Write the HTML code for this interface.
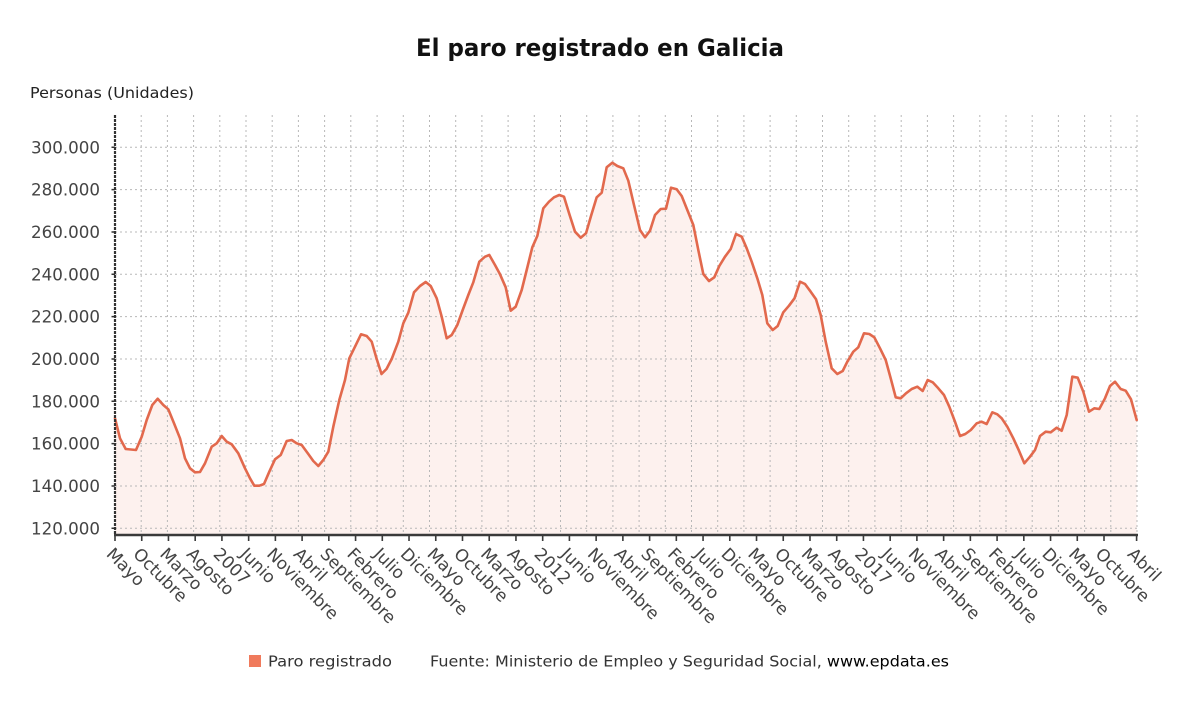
<!DOCTYPE html>
<html>
<head>
<meta charset="utf-8">
<style>
html,body{margin:0;padding:0;background:#fff;}
svg{display:block;}
text{font-family:"DejaVu Sans","Liberation Sans",sans-serif;}
</style>
</head>
<body>
<svg width="1200" height="705" viewBox="0 0 1200 705" xmlns="http://www.w3.org/2000/svg">
<rect width="1200" height="705" fill="#fff"/>
<text x="600" y="56" text-anchor="middle" font-size="24" font-weight="bold" fill="#111" textLength="368" lengthAdjust="spacingAndGlyphs">El paro registrado en Galicia</text>
<text x="30" y="98" font-size="15.5" fill="#222" textLength="164" lengthAdjust="spacingAndGlyphs">Personas (Unidades)</text>

<!-- fill -->
<polygon fill="#fdf1ee" points="115,418.3 120,438.3 125.7,449 136,450 141.7,436.7 146.7,420 152.3,405 157.7,398.7 163.3,405 168.3,409.3 174,423.3 180,438.3 185,458.3 190,468.3 195,472.3 200,472 205,463.3 211.7,446.7 216.7,443.3 221.7,436 226.7,441.7 231.7,444.3 238.3,453.3 245,468.3 250,478.3 254.3,485.7 259.3,485.7 264,484 269.3,471.7 275,459.3 280.7,455 286.7,441 291.7,440 296.7,443.3 301.7,445 308.3,454 313.3,461 318.3,466 323.3,460 328.3,451.7 333.3,426.7 339.3,400 345,380 349.3,358.3 355,346.7 361,334.3 366.7,336 371.7,341.7 376.7,359 381.5,374 386.5,369 391.7,359 398.3,341.7 403.3,323.3 408.3,312.7 414,292.3 420,286 425.7,282 430.7,286 436.7,298.3 441.7,316.7 446.7,338.3 451.7,335 457.3,325 462.7,310 468.3,295 473.3,282.3 479.3,261.7 485,256.7 489.3,255 495,265 500,274.3 505.7,287.3 510.7,310.7 515.7,306.7 521.7,290 526.7,270 532.3,247.3 537.3,236 543.3,208.3 549,201.7 554,197.3 559.3,195 564,196.7 569.3,214 575,231.7 580.7,237.7 586,233.3 591,216 596.7,197.3 601.7,192.7 606.7,167.3 612.3,162.7 617.3,166 623.3,168.3 628.3,180.7 634,205 640,230 645,237.3 650,230.7 655,215 660.7,209 666,208.7 671,187.7 676.7,189.3 681.7,196 687.3,210 693.3,225 698.3,250 703.3,274 709,281 714.3,277.3 719.3,266 725,256.7 730.7,249 736,234 741.7,236.7 746.7,248.3 751.7,261.7 757.3,278.3 762.3,295 767.3,323.3 772.7,330 777.7,326 783.3,312.3 789,305.7 794.5,298.3 800,281.7 805,284 810.7,291.7 816,299.3 820.7,315 825.7,341.7 831.7,368.3 837.3,374 842.7,371 847.3,361.7 853.3,351.7 858.3,347.3 864,333.3 869.3,334 874.3,337.3 880,348.3 885.7,360 890.7,378.3 895.7,397.3 900.7,398.3 906,393.3 911.7,389 917.3,386.7 922.7,391 927.7,380 932.7,382.3 938.3,388.3 944,395 949.3,406.7 955,421.7 960,436 965.3,434 970.8,430 976.7,423.3 981.5,421.7 986.7,424 992.3,412.3 997.3,414.3 1001.7,418.3 1007.3,426.7 1013.3,438.3 1019,450.7 1024.3,463.3 1030,456.7 1035,450 1040,436 1045.7,431.7 1050.7,432.3 1056.7,427.7 1061.7,430.7 1066.7,415 1072.3,376.7 1077.7,377.7 1083.3,391.7 1089,411.7 1094.3,408.3 1099.3,409 1105,398.3 1110,386 1115,381.7 1120.7,389 1125.7,390.7 1131,399.3 1136.7,420 1136.7,535 115,535"/>

<!-- gridlines -->
<g stroke="#b8b8b8" stroke-width="1" stroke-dasharray="2,3" fill="none">
<path d="M115,528.3H1137M115,486H1137M115,443.6H1137M115,401.3H1137M115,359H1137M115,316.6H1137M115,274.3H1137M115,232H1137M115,189.6H1137M115,147.3H1137"/>
<path d="M141.2,115V535M167.4,115V535M193.6,115V535M219.8,115V535M246,115V535M272.2,115V535M298.4,115V535M324.6,115V535M350.8,115V535M377.1,115V535M403.3,115V535M429.5,115V535M455.7,115V535M481.9,115V535M508.1,115V535M534.3,115V535M560.5,115V535M586.7,115V535M612.9,115V535M639.1,115V535M665.3,115V535M691.5,115V535M717.7,115V535M743.9,115V535M770.1,115V535M796.3,115V535M822.5,115V535M848.7,115V535M874.9,115V535M901.2,115V535M927.4,115V535M953.6,115V535M979.8,115V535M1006,115V535M1032.2,115V535M1058.4,115V535M1084.6,115V535M1110.8,115V535M1137,115V535"/>
</g>

<!-- line -->
<polyline fill="none" stroke="#e2694d" stroke-width="2.6" stroke-linejoin="round" stroke-linecap="round" points="115,418.3 120,438.3 125.7,449 136,450 141.7,436.7 146.7,420 152.3,405 157.7,398.7 163.3,405 168.3,409.3 174,423.3 180,438.3 185,458.3 190,468.3 195,472.3 200,472 205,463.3 211.7,446.7 216.7,443.3 221.7,436 226.7,441.7 231.7,444.3 238.3,453.3 245,468.3 250,478.3 254.3,485.7 259.3,485.7 264,484 269.3,471.7 275,459.3 280.7,455 286.7,441 291.7,440 296.7,443.3 301.7,445 308.3,454 313.3,461 318.3,466 323.3,460 328.3,451.7 333.3,426.7 339.3,400 345,380 349.3,358.3 355,346.7 361,334.3 366.7,336 371.7,341.7 376.7,359 381.5,374 386.5,369 391.7,359 398.3,341.7 403.3,323.3 408.3,312.7 414,292.3 420,286 425.7,282 430.7,286 436.7,298.3 441.7,316.7 446.7,338.3 451.7,335 457.3,325 462.7,310 468.3,295 473.3,282.3 479.3,261.7 485,256.7 489.3,255 495,265 500,274.3 505.7,287.3 510.7,310.7 515.7,306.7 521.7,290 526.7,270 532.3,247.3 537.3,236 543.3,208.3 549,201.7 554,197.3 559.3,195 564,196.7 569.3,214 575,231.7 580.7,237.7 586,233.3 591,216 596.7,197.3 601.7,192.7 606.7,167.3 612.3,162.7 617.3,166 623.3,168.3 628.3,180.7 634,205 640,230 645,237.3 650,230.7 655,215 660.7,209 666,208.7 671,187.7 676.7,189.3 681.7,196 687.3,210 693.3,225 698.3,250 703.3,274 709,281 714.3,277.3 719.3,266 725,256.7 730.7,249 736,234 741.7,236.7 746.7,248.3 751.7,261.7 757.3,278.3 762.3,295 767.3,323.3 772.7,330 777.7,326 783.3,312.3 789,305.7 794.5,298.3 800,281.7 805,284 810.7,291.7 816,299.3 820.7,315 825.7,341.7 831.7,368.3 837.3,374 842.7,371 847.3,361.7 853.3,351.7 858.3,347.3 864,333.3 869.3,334 874.3,337.3 880,348.3 885.7,360 890.7,378.3 895.7,397.3 900.7,398.3 906,393.3 911.7,389 917.3,386.7 922.7,391 927.7,380 932.7,382.3 938.3,388.3 944,395 949.3,406.7 955,421.7 960,436 965.3,434 970.8,430 976.7,423.3 981.5,421.7 986.7,424 992.3,412.3 997.3,414.3 1001.7,418.3 1007.3,426.7 1013.3,438.3 1019,450.7 1024.3,463.3 1030,456.7 1035,450 1040,436 1045.7,431.7 1050.7,432.3 1056.7,427.7 1061.7,430.7 1066.7,415 1072.3,376.7 1077.7,377.7 1083.3,391.7 1089,411.7 1094.3,408.3 1099.3,409 1105,398.3 1110,386 1115,381.7 1120.7,389 1125.7,390.7 1131,399.3 1136.7,420"/>

<!-- axes -->
<line x1="115" y1="115" x2="115" y2="535" stroke="#333" stroke-width="2.2" stroke-dasharray="3,1"/>
<g stroke="#333" stroke-width="1.5">
<path d="M111.5,528.3H115M111.5,486H115M111.5,443.6H115M111.5,401.3H115M111.5,359H115M111.5,316.6H115M111.5,274.3H115M111.5,232H115M111.5,189.6H115M111.5,147.3H115"/>
</g>
<line x1="114" y1="535" x2="1138" y2="535" stroke="#3a3a3a" stroke-width="2.6"/>
<g stroke="#3a3a3a" stroke-width="1.6">
<path d="M115,535V541M141.73,535V541M168.46,535V541M195.19,535V541M221.92,535V541M248.65,535V541M275.38,535V541M302.11,535V541M328.84,535V541M355.57,535V541M382.3,535V541M409.03,535V541M435.76,535V541M462.49,535V541M489.22,535V541M515.95,535V541M542.68,535V541M569.41,535V541M596.14,535V541M622.87,535V541M649.6,535V541M676.33,535V541M703.06,535V541M729.79,535V541M756.52,535V541M783.25,535V541M809.98,535V541M836.71,535V541M863.44,535V541M890.17,535V541M916.9,535V541M943.63,535V541M970.36,535V541M997.09,535V541M1023.82,535V541M1050.55,535V541M1077.28,535V541M1104.01,535V541M1136.6,535V541"/>
</g>

<!-- y labels -->
<g font-size="16.7" fill="#444" text-anchor="end">
<text x="100" y="534.3">120.000</text>
<text x="100" y="492">140.000</text>
<text x="100" y="449.6">160.000</text>
<text x="100" y="407.3">180.000</text>
<text x="100" y="365">200.000</text>
<text x="100" y="322.6">220.000</text>
<text x="100" y="280.3">240.000</text>
<text x="100" y="238">260.000</text>
<text x="100" y="195.6">280.000</text>
<text x="100" y="153.3">300.000</text>
</g>

<!-- x labels -->
<g font-size="17" fill="#444">
<text transform="translate(105.5,555) rotate(45)">Mayo</text>
<text transform="translate(132.2,555) rotate(45)">Octubre</text>
<text transform="translate(159,555) rotate(45)">Marzo</text>
<text transform="translate(185.7,555) rotate(45)">Agosto</text>
<text transform="translate(212.4,555) rotate(45)">2007</text>
<text transform="translate(239.2,555) rotate(45)">Junio</text>
<text transform="translate(265.9,555) rotate(45)">Noviembre</text>
<text transform="translate(292.6,555) rotate(45)">Abril</text>
<text transform="translate(319.3,555) rotate(45)">Septiembre</text>
<text transform="translate(346.1,555) rotate(45)">Febrero</text>
<text transform="translate(372.8,555) rotate(45)">Julio</text>
<text transform="translate(399.5,555) rotate(45)">Diciembre</text>
<text transform="translate(426.3,555) rotate(45)">Mayo</text>
<text transform="translate(453,555) rotate(45)">Octubre</text>
<text transform="translate(479.7,555) rotate(45)">Marzo</text>
<text transform="translate(506.5,555) rotate(45)">Agosto</text>
<text transform="translate(533.2,555) rotate(45)">2012</text>
<text transform="translate(559.9,555) rotate(45)">Junio</text>
<text transform="translate(586.6,555) rotate(45)">Noviembre</text>
<text transform="translate(613.4,555) rotate(45)">Abril</text>
<text transform="translate(640.1,555) rotate(45)">Septiembre</text>
<text transform="translate(666.8,555) rotate(45)">Febrero</text>
<text transform="translate(693.6,555) rotate(45)">Julio</text>
<text transform="translate(720.3,555) rotate(45)">Diciembre</text>
<text transform="translate(747,555) rotate(45)">Mayo</text>
<text transform="translate(773.8,555) rotate(45)">Octubre</text>
<text transform="translate(800.5,555) rotate(45)">Marzo</text>
<text transform="translate(827.2,555) rotate(45)">Agosto</text>
<text transform="translate(853.9,555) rotate(45)">2017</text>
<text transform="translate(880.7,555) rotate(45)">Junio</text>
<text transform="translate(907.4,555) rotate(45)">Noviembre</text>
<text transform="translate(934.1,555) rotate(45)">Abril</text>
<text transform="translate(960.9,555) rotate(45)">Septiembre</text>
<text transform="translate(987.6,555) rotate(45)">Febrero</text>
<text transform="translate(1014.3,555) rotate(45)">Julio</text>
<text transform="translate(1041.1,555) rotate(45)">Diciembre</text>
<text transform="translate(1067.8,555) rotate(45)">Mayo</text>
<text transform="translate(1094.5,555) rotate(45)">Octubre</text>
<text transform="translate(1126.6,555) rotate(45)">Abril</text>
</g>

<!-- legend -->
<rect x="249" y="655" width="12" height="12" fill="#f07a5c"/>
<text x="268" y="666.5" font-size="15" fill="#333" textLength="124" lengthAdjust="spacingAndGlyphs">Paro registrado</text>
<text x="430" y="666.5" font-size="15" fill="#333" textLength="519" lengthAdjust="spacingAndGlyphs">Fuente: Ministerio de Empleo y Seguridad Social, <tspan fill="#000">www.epdata.es</tspan></text>
</svg>
</body>
</html>
